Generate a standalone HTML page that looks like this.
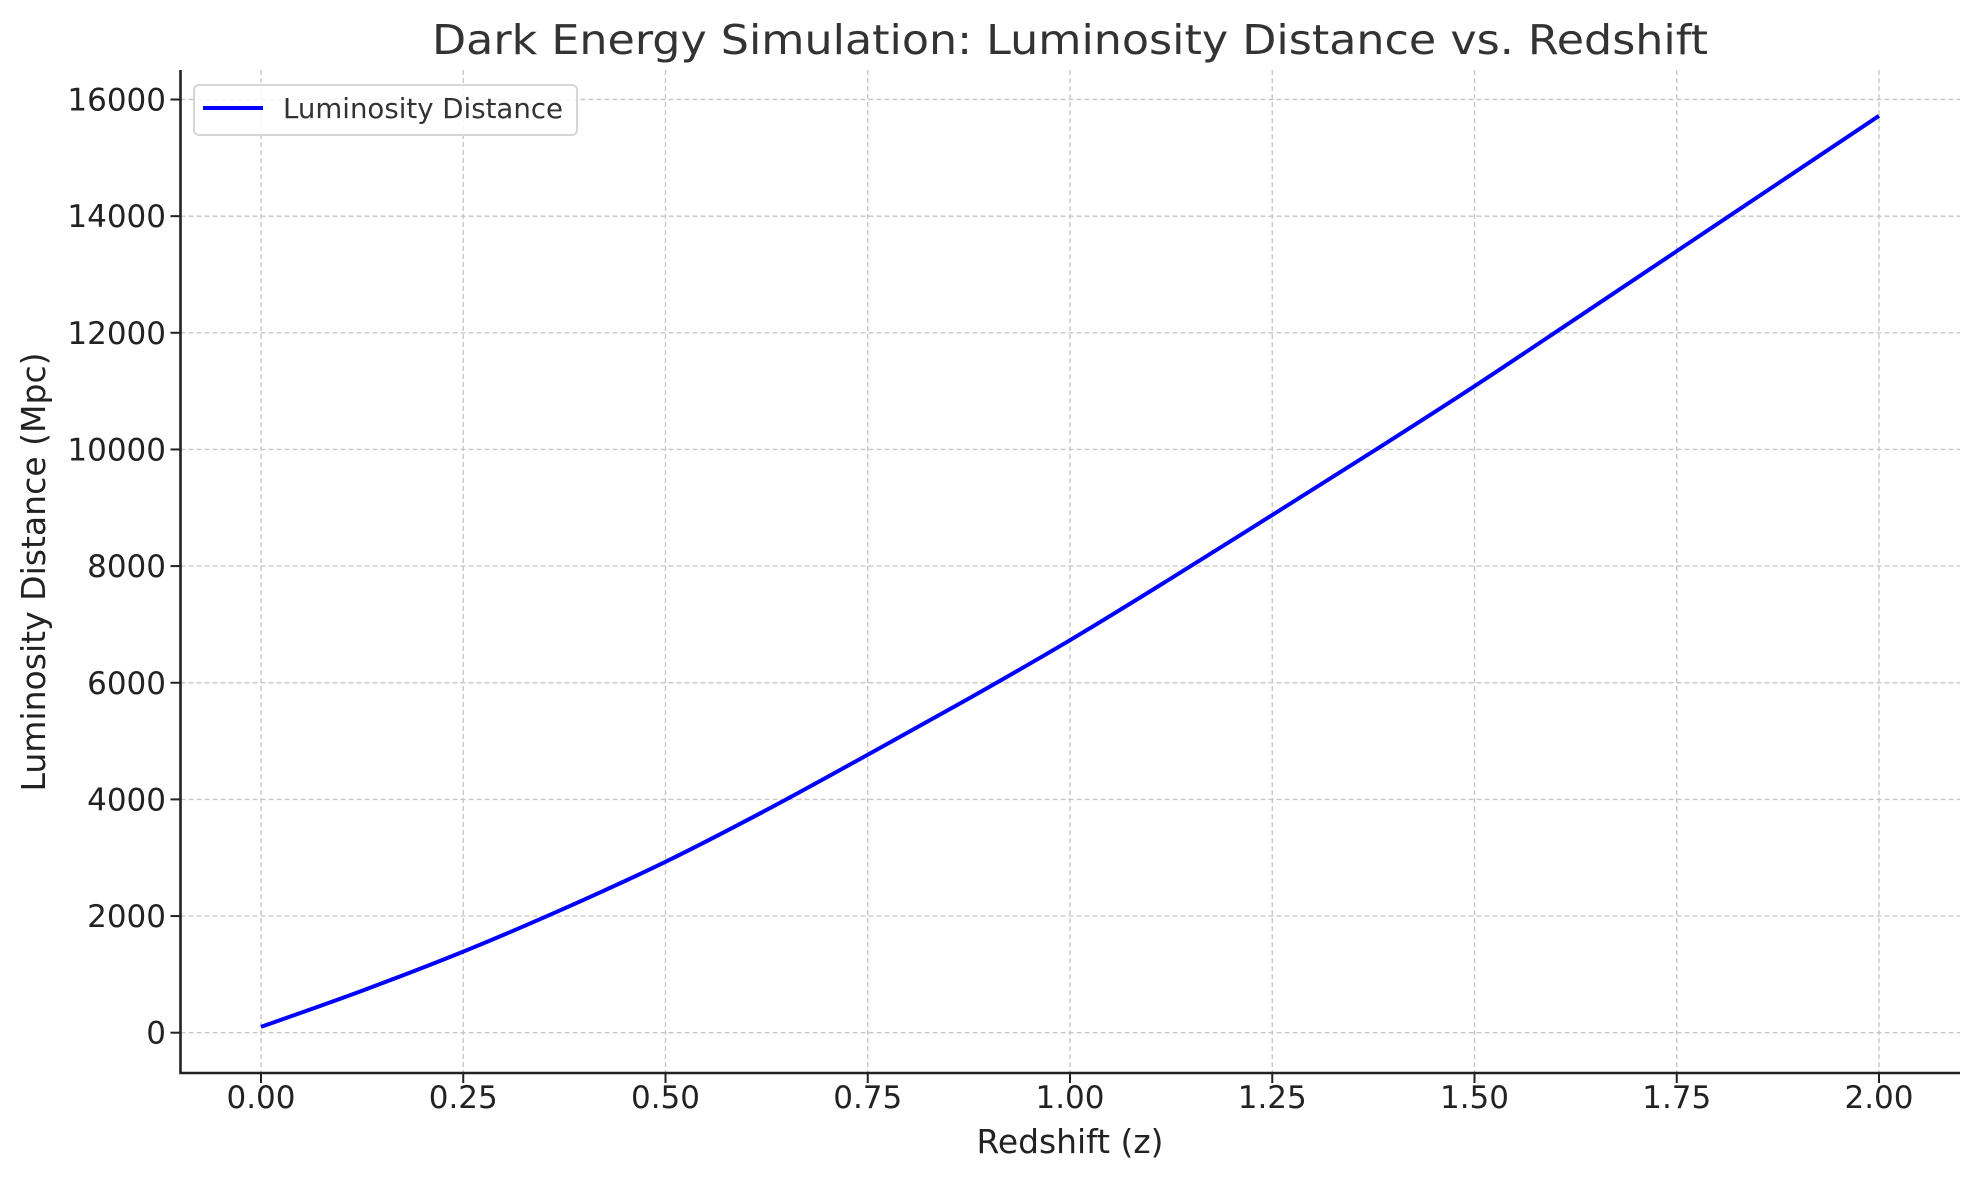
<!DOCTYPE html>
<html><head><meta charset="utf-8"><style>
html,body{margin:0;padding:0;background:#fff}
svg{display:block;font-family:"DejaVu Sans","Liberation Sans",sans-serif}
</style></head><body>
<svg id="chart" width="1979" height="1180" viewBox="0 0 1979 1180">
<rect width="1979" height="1180" fill="#fff"/>
<text x="1070" y="54" font-size="41" fill="#333" text-anchor="middle" textLength="1276" lengthAdjust="spacingAndGlyphs">Dark Energy Simulation: Luminosity Distance vs. Redshift</text>
<g id="grid"></g>
<g id="ticks"></g>
<path id="series" fill="none" stroke="#0000ff" stroke-width="4" stroke-linejoin="round" stroke-linecap="butt"/>
<path d="M180.5 70 V1073 H1960" fill="none" stroke="#222" stroke-width="2.6"/>
<text x="1070" y="1153" font-size="33" fill="#222" text-anchor="middle" textLength="187" lengthAdjust="spacingAndGlyphs">Redshift (z)</text>
<text transform="translate(45,572) rotate(-90)" font-size="33" fill="#222" text-anchor="middle" textLength="439" lengthAdjust="spacingAndGlyphs">Luminosity Distance (Mpc)</text>
<g>
<rect x="194" y="85" width="383" height="50" rx="5" fill="#fff" fill-opacity="0.85" stroke="#d6d6d6" stroke-width="2"/>
<line x1="203" y1="108" x2="263" y2="108" stroke="#0000ff" stroke-width="4"/>
<text x="283" y="118" font-size="27.5" fill="#333" textLength="280" lengthAdjust="spacingAndGlyphs">Luminosity Distance</text>
</g>
</svg>
<script>
const redshifts = [0, 0.125, 0.25, 0.375, 0.5, 0.625, 0.75, 0.875, 1.0, 1.125, 1.25, 1.375, 1.5, 1.625, 1.75, 1.875, 2.0];
const distances = [100, 720, 1390, 2130, 2930, 3820, 4766, 5730, 6730, 7790, 8876, 9970, 11085, 12240, 13400, 14560, 15720];
const xTicks = [0, 0.25, 0.5, 0.75, 1.0, 1.25, 1.5, 1.75, 2.0];
const xTickLabels = ["0.00","0.25","0.50","0.75","1.00","1.25","1.50","1.75","2.00"];
const yTicks = [0, 2000, 4000, 6000, 8000, 10000, 12000, 14000, 16000];
const yTickLabels = ["0","2000","4000","6000","8000","10000","12000","14000","16000"];

const NS = "http://www.w3.org/2000/svg";
function xs(v){ return 261 + (v - 0) * 809; }
function ys(v){ return 1032.7 - v * 0.058325; }
const grid = document.getElementById('grid');
const ticks = document.getElementById('ticks');
function mk(tag, attrs, parent){
  const e = document.createElementNS(NS, tag);
  for (const k in attrs) e.setAttribute(k, attrs[k]);
  parent.appendChild(e); return e;
}
xTicks.forEach((t, i) => {
  const x = xs(t);
  const g = mk('line', {x1:x, x2:x, y1:70, y2:1073, stroke:'#c8c8c8', 'stroke-width':1.4, 'stroke-dasharray':'5,3'}, grid);
  
  
  const tk = mk('line', {x1:x, x2:x, y1:1073, y2:1083, stroke:'#222', 'stroke-width':2}, ticks);
  
  
  const lb = mk('text', {x:x, y:1108, 'font-size':31, fill:'#222', 'text-anchor':'middle'}, ticks);
  lb.textContent = xTickLabels[i];
  
  
});
yTicks.forEach((t, i) => {
  const y = ys(t);
  const g = mk('line', {x1:180.5, x2:1960, y1:y, y2:y, stroke:'#c8c8c8', 'stroke-width':1.4, 'stroke-dasharray':'5,3'}, grid);
  
  
  const tk = mk('line', {x1:170.5, x2:180.5, y1:y, y2:y, stroke:'#222', 'stroke-width':2}, ticks);
  
  
  const lb = mk('text', {x:166, y:y+11, 'font-size':31, fill:'#222', 'text-anchor':'end'}, ticks);
  lb.textContent = yTickLabels[i];
  
  
});
const pts = redshifts.map((z, i) => [xs(z), ys(distances[i])]);
let d = 'M' + pts[0][0] + ' ' + pts[0][1];
for (let i = 0; i < pts.length - 1; i++) {
  const p0 = pts[i-1] || pts[i], p1 = pts[i], p2 = pts[i+1], p3 = pts[i+2] || p2;
  const c1 = [p1[0] + (p2[0]-p0[0])/6, p1[1] + (p2[1]-p0[1])/6];
  const c2 = [p2[0] - (p3[0]-p1[0])/6, p2[1] - (p3[1]-p1[1])/6];
  d += ' C' + c1.join(' ') + ' ' + c2.join(' ') + ' ' + p2.join(' ');
}
document.getElementById('series').setAttribute('d', d);
</script>
</body></html>
